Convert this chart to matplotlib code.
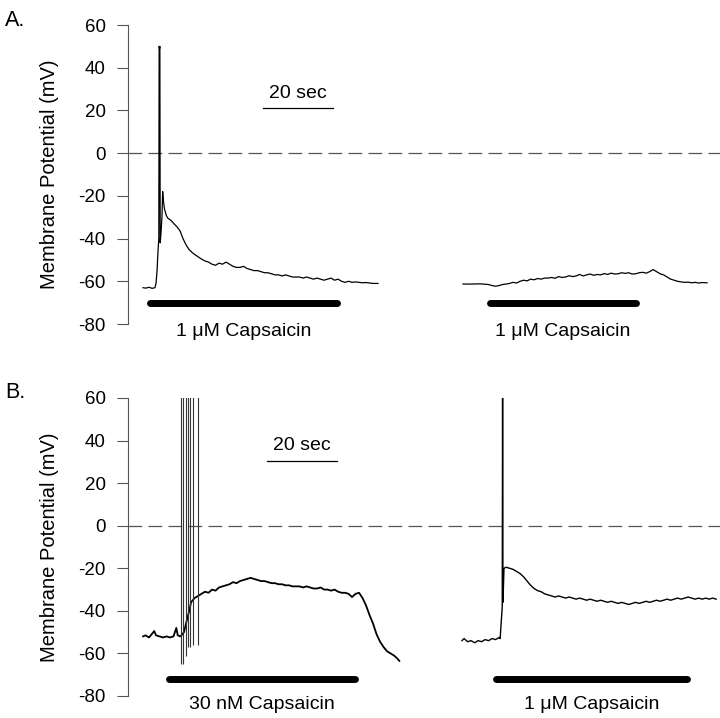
import matplotlib
matplotlib.use('Agg')
import matplotlib.pyplot as plt

plt.rcParams['font.family'] = ['Liberation Sans', 'DejaVu Sans']
plt.rcParams['axes.unicode_minus'] = False

# ---------------- dados (tempo em s, potencial em mV) ----------------
# painel A, primeira aplicacao
tA1 = [4.3, 5.1, 6.0, 6.9, 7.7, 8.0, 8.3, 8.6, 8.8, 8.9, 9.0, 9.1, 9.2, 9.4, 9.7,
       9.9, 10.1, 10.4, 10.9, 11.4, 12.3, 13.1, 14.0, 14.9, 15.7, 16.6, 17.4, 18.3,
       19.1, 20.0, 20.9, 22, 23, 24, 25, 26, 27, 28, 29, 30, 31, 32, 33, 34, 35, 36,
       37, 38, 39, 40, 41, 42, 43, 44, 45, 46, 47, 48, 49, 50, 51, 52, 53, 54, 55,
       56, 57, 58, 59, 60, 61, 62, 63, 64, 65, 66, 67, 68, 69, 70, 71.4]
vA1 = [-63.0, -63.2, -62.8, -63.3, -63.0, -61, -55, -45, -40, 50, 49, 50, -42, -38, -30,
       -18, -22, -26, -29, -30.5, -31.5, -33, -34.5, -36.5, -40, -43, -45, -46.5,
       -47.5, -48.5, -49.5, -50.5, -51, -52, -52.5, -51.5, -52, -51, -52, -53, -53.5,
       -53.5, -53, -54, -54.5, -55, -55, -55.5, -56, -56, -56.5, -57, -57, -57.5, -57,
       -57.5, -58, -58, -58, -58.5, -58, -58.5, -59, -58.5, -59, -59.5, -59, -58.5,
       -59.5, -59, -60, -60.5, -60, -60.5, -60.3, -60.5, -60.7, -60.6, -60.8, -61, -61]

# painel A, segunda aplicacao
tA2 = [95.7, 97.7, 100.6, 102.9, 104, 105, 106, 107, 108, 109, 110, 111, 112, 113,
       114, 115, 116, 117, 118, 119, 120, 121, 122, 123, 124, 125, 126, 127, 128,
       129, 130, 131, 132, 133, 134, 135, 136, 137, 138, 139, 140, 141, 142, 143,
       144, 145, 146, 147, 148, 149, 150, 151, 152, 153, 154, 155, 156, 157, 158,
       159, 160, 161, 162, 163, 164, 165.4]
vA2 = [-61.3, -61.3, -61.2, -61.5, -62, -62.3, -62, -61.5, -61.3, -61, -60.5, -60.8,
       -60, -59.5, -59.8, -59, -59.3, -58.7, -59, -58.5, -58.5, -58.2, -58.6, -57.8,
       -58.2, -58, -57.4, -57.8, -57.5, -56.8, -57.5, -57, -56.6, -57.2, -56.8, -57,
       -56.4, -56.8, -56.2, -56.6, -56.5, -56, -56.3, -56, -56.6, -56.5, -56, -55.8,
       -56.2, -55.5, -54.5, -55.5, -56.5, -57, -58, -59, -59.5, -60, -60.3, -60.5,
       -60.4, -60.7, -60.5, -60.8, -60.6, -60.7]

# painel B, primeira aplicacao (30 nM)
tB1 = [4.3, 5, 6, 7, 7.5, 8, 9, 10, 11, 12, 13, 13.8, 14.2, 15, 16, 17, 17.5, 18, 19,
       20, 21, 22, 23, 24, 25, 26, 27, 28, 29, 30, 31, 32, 33, 34, 35, 36, 37, 38,
       39, 40, 41, 42, 43, 44, 45, 46, 47, 48, 49, 50, 51, 52, 53, 54, 55, 56, 57,
       58, 59, 60, 61, 62, 63, 64, 65, 66, 67, 68, 69, 70, 71, 72, 73, 74, 75, 76,
       77, 77.5]
vB1 = [-52, -51.5, -52.5, -50.5, -49.5, -51.5, -52, -52.5, -52, -52.5, -52, -48,
       -51.5, -52, -50, -43, -40, -36, -34, -33, -32, -31, -31.5, -30, -30.5, -29,
       -28.5, -28, -27.5, -26.5, -27, -26, -25.5, -25, -24.5, -25, -25.5, -26, -26,
       -26.5, -27, -27, -27.5, -27.5, -28, -28, -28.5, -28.5, -28.5, -29, -28.5, -29,
       -29.5, -29.5, -29, -30, -30, -30.5, -30, -31, -31.5, -31.5, -32, -33.5, -32,
       -31.5, -34, -37.5, -42, -46, -51, -54.5, -57, -59, -60, -61, -62.5, -63.5]
# potenciais de acao do painel B (30 nM)
spikeB1_t = [15.1, 15.8, 16.6, 17.1, 17.7, 18.5, 19.9]
spikeB1_min = [-65, -65, -61, -57, -57, -56, -56]

# painel B, segunda aplicacao (1 uM)
tB2 = [95.4, 96, 97, 98, 99, 100, 101, 102, 103, 104, 105, 106, 106.3, 106.9, 107.0,
       107.1, 107.4, 108, 109, 110, 111, 112, 113, 114, 115, 116, 117, 118, 119, 120,
       121, 122, 123, 124, 125, 126, 127, 128, 129, 130, 131, 132, 133, 134, 135,
       136, 137, 138, 139, 140, 141, 142, 143, 144, 145, 146, 147, 148, 149, 150,
       151, 152, 153, 154, 155, 156, 157, 158, 159, 160, 161, 162, 163, 164, 165,
       166, 167, 168]
vB2 = [-54, -53, -54.5, -54, -55, -54, -54.5, -53.5, -54, -53, -53.5, -52.5, -53, -38,
       70, -36, -20, -19.5, -20, -20.5, -21.5, -22.5, -24, -26, -28, -29.5, -30.5,
       -31, -32, -32.5, -33, -33.5, -33, -33.5, -34, -33.5, -34, -34.5, -34, -34.5,
       -35, -34.5, -35, -35.5, -35, -35.5, -36, -35.5, -36, -36.5, -36, -36.5, -37,
       -36.5, -36, -36.5, -36, -35.5, -36, -35.5, -35, -35.5, -35, -34.5, -35, -34.5,
       -34, -34.5, -34, -33.5, -34, -34.5, -34, -34.5, -34, -34.5, -34, -34.5]

# barras de aplicacao da capsaicina (inicio, fim) e rotulos
barsA = [(6.3, 59.7), (103.4, 145.1)]
barsB = [(11.8, 64.8), (105.1, 159.7)]
labelsA = ['1 \u03bcM Capsaicin', '1 \u03bcM Capsaicin']
labelsB = ['30 nM Capsaicin', '1 \u03bcM Capsaicin']
yticks = [-80, -60, -40, -20, 0, 20, 40, 60]

# ---------------- figura ----------------
fig = plt.figure(figsize=(7.2, 7.18), dpi=100)
axA = fig.add_axes([128/720, 1-324/718, 592/720, 299/718])
axB = fig.add_axes([128/720, 1-696/718, 592/720, 298/718])

gray = '#555555'
for ax in (axA, axB):
    ax.set_xlim(0, 169.1)
    ax.set_ylim(-80, 60)
    for s in ('top', 'right', 'bottom'):
        ax.spines[s].set_visible(False)
    ax.spines['left'].set_color(gray)
    ax.spines['left'].set_linewidth(0.8)
    ax.set_xticks([])
    ax.set_yticks(yticks)
    ax.tick_params(axis='y', length=8, width=0.8, color=gray, pad=8, labelsize=13.5)
    ax.axhline(0, color=gray, lw=0.9, linestyle=(0, (11, 5)))
    ax.text(-0.133, 0.5, 'Membrane Potential (mV)', transform=ax.transAxes,
            rotation=90, ha='center', va='center', fontsize=14.5)

# tracos
axA.plot(tA1, vA1, color='black', lw=0.9)
axA.plot(tA2, vA2, color='black', lw=0.9)
axB.plot(tB1, vB1, color='black', lw=1.3)
axB.vlines(spikeB1_t, spikeB1_min, 70, color='#333333', lw=0.8)
axB.plot(tB2, vB2, color='black', lw=1.0)

# barras e rotulos
for (a, b), lab in zip(barsA, labelsA):
    axA.plot([a, b], [-70, -70], color='black', lw=5, solid_capstyle='round')
    axA.text((a + b) / 2, -83.5, lab, ha='center', va='center', fontsize=14, clip_on=False)
for (a, b), lab in zip(barsB, labelsB):
    axB.plot([a, b], [-72, -72], color='black', lw=5, solid_capstyle='round')
    axB.text((a + b) / 2, -84, lab, ha='center', va='center', fontsize=14, clip_on=False)

# barras de escala (20 s)
axA.plot([38.6, 58.6], [21, 21], color='black', lw=0.9)
axA.text(48.6, 27.8, '20 sec', ha='center', va='center', fontsize=14)
axB.plot([39.7, 59.7], [30.4, 30.4], color='black', lw=0.9)
axB.text(49.7, 37.5, '20 sec', ha='center', va='center', fontsize=14)

fig.text(5/720, 1-20/718, 'A.', fontsize=15.5, ha='left', va='center')
fig.text(5/720, 1-392/718, 'B.', fontsize=15.5, ha='left', va='center')

fig.savefig('out.png', dpi=100)
